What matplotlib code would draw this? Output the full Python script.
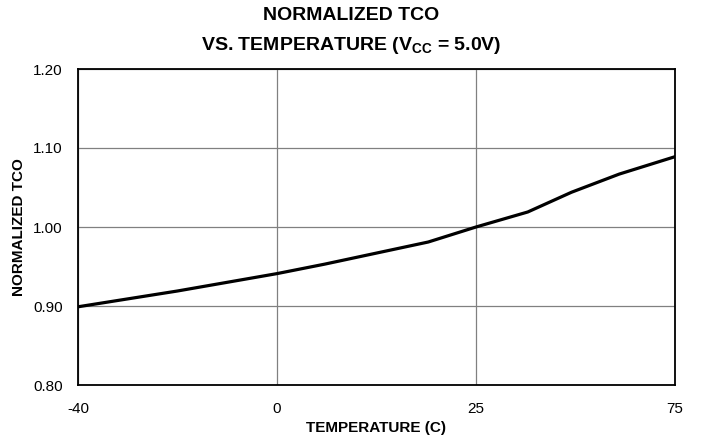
import matplotlib
matplotlib.use("Agg")
import matplotlib.pyplot as plt
import numpy as np

plt.rcParams["font.family"] = ["Liberation Sans", "DejaVu Sans"]
plt.rcParams["mathtext.fontset"] = "custom"
plt.rcParams["mathtext.rm"] = "Liberation Sans"
plt.rcParams["mathtext.bf"] = "Liberation Sans:bold"

# temperature axis is drawn with equally spaced labelled ticks
TICK_TEMPS = [-40, 0, 25, 75]
TICK_LABELS = ["-40", "0", "25", "75"]

temps = [-40, -20, 0, 6, 19, 25, 38, 49, 61, 75]
tco = [0.899, 0.919, 0.941, 0.953, 0.981, 1.000, 1.019, 1.044, 1.067, 1.089]

y_ticks = [0.80, 0.90, 1.00, 1.10, 1.20]


def to_pos(t):
    return np.interp(t, TICK_TEMPS, np.arange(len(TICK_TEMPS)))


def main():
    fig = plt.figure(figsize=(7.02, 4.44), dpi=100)
    ax = fig.add_axes([78 / 702, 1 - 385 / 444, (675 - 78) / 702, (385 - 69) / 444])

    ax.plot(to_pos(temps), tco, color="black", lw=2.3, solid_joinstyle="round", zorder=3)

    ax.set_xlim(0, len(TICK_TEMPS) - 1)
    ax.set_ylim(0.80, 1.20)
    ax.set_xticks(np.arange(len(TICK_TEMPS)))
    ax.set_xticklabels(TICK_LABELS)
    ax.set_yticks(y_ticks)
    ax.set_yticklabels([f"{v:.2f}" for v in y_ticks])
    ax.tick_params(length=0, labelsize=11, colors="black")
    ax.tick_params(axis="y", pad=11)
    ax.tick_params(axis="x", pad=12)
    ax.grid(True, color="#808080", lw=0.9)
    ax.set_axisbelow(True)
    for s in ax.spines.values():
        s.set_linewidth(1.3)
        s.set_color("black")

    ax.set_xlabel("TEMPERATURE (C)", fontsize=11, fontweight="bold", labelpad=4)
    ax.set_ylabel("NORMALIZED TCO", fontsize=11, fontweight="bold", labelpad=5)

    fig.text(0.5, 1 - 15 / 444, "NORMALIZED TCO", ha="center", va="center",
             fontsize=14, fontweight="bold")
    fig.text(0.5, 1 - 45 / 444, r"VS. TEMPERATURE (V$_\mathbf{CC}$ = 5.0V)",
             ha="center", va="center", fontsize=14, fontweight="bold")

    fig.savefig("out.png", dpi=100)


if __name__ == "__main__":
    main()
